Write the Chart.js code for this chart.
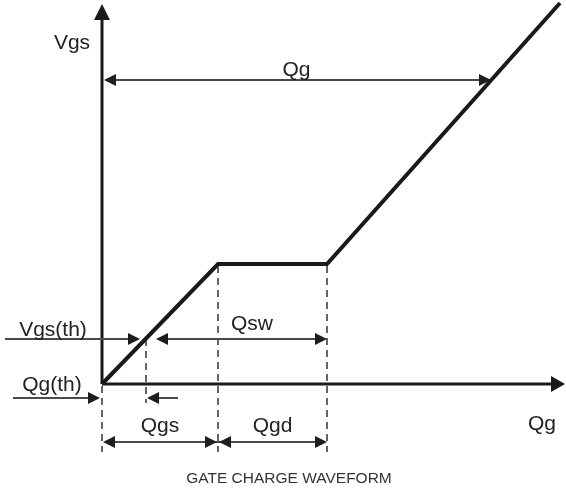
<!DOCTYPE html>
<html>
<head>
<meta charset="utf-8">
<script src="https://cdn.jsdelivr.net/npm/chart.js@4.4.1/dist/chart.umd.min.js"></script>
<style>
  body { margin: 0; background: #fff; }
  canvas { display: block; }
</style>
</head>
<body>
<canvas id="GateChart" width="566" height="490"></canvas>
<script>
// waveform (gate charge, arbitrary units)
var waveQ = [0, 11.6, 22.5, 45.8];
var waveV = [0, 12.0, 12.0, 38.1];

// key charges on the Qg axis
var qTh = 4.4;       // Qg(th)
var qGs = 11.6;      // end of Qgs
var qSwEnd = 22.5;   // end of plateau
var qTotal = 38.9;   // Qg

// key voltages on the Vgs axis
var vTh = 4.5;
var vPlateau = 12.0;
var vQgArrow = 30.4;

// axis extents
var qAxisMin = -10.2, qAxisMax = 46.4;
var vAxisMin = -10.6, vAxisMax = 38.4;
var qAxisEnd = 46.3, vAxisEnd = 38.0;

var labels = {
  vgs: "Vgs", qg: "Qg", vth: "Vgs(th)", qth: "Qg(th)",
  qsw: "Qsw", qgs: "Qgs", qgd: "Qgd", title: "GATE CHARGE WAVEFORM"
};

function head(ctx, x, y, dir, len, half) {
  // dir: 1 right, -1 left, 'up'
  ctx.beginPath();
  if (dir === 'up') {
    ctx.moveTo(x, y);
    ctx.lineTo(x - half, y + len);
    ctx.lineTo(x + half, y + len);
  } else {
    ctx.moveTo(x, y);
    ctx.lineTo(x - dir * len, y - half);
    ctx.lineTo(x - dir * len, y + half);
  }
  ctx.closePath();
  ctx.fill();
}

function hline(ctx, x1, x2, y) {
  ctx.beginPath();
  ctx.moveTo(x1, y);
  ctx.lineTo(x2, y);
  ctx.stroke();
}

function dashed(ctx, x, y1, y2) {
  ctx.save();
  ctx.setLineDash([7, 5]);
  ctx.lineWidth = 1.5;
  ctx.strokeStyle = '#333';
  ctx.beginPath();
  ctx.moveTo(x, y1);
  ctx.lineTo(x, y2);
  ctx.stroke();
  ctx.restore();
}

var diagramPlugin = {
  id: 'diagram',
  beforeDatasetsDraw: function(chart) {
    var ctx = chart.ctx;
    var sx = chart.scales.x, sy = chart.scales.y;
    var X = function(v) { return sx.getPixelForValue(v); };
    var Y = function(v) { return sy.getPixelForValue(v); };
    var x0 = X(0), y0 = Y(0);

    ctx.save();
    // axes
    ctx.strokeStyle = '#1a1a1a';
    ctx.fillStyle = '#1a1a1a';
    ctx.lineWidth = 3;
    ctx.beginPath();
    ctx.moveTo(x0, y0);
    ctx.lineTo(x0, Y(vAxisEnd) + 10);
    ctx.stroke();
    head(ctx, x0, Y(vAxisEnd), 'up', 16, 8);
    hline(ctx, x0, X(qAxisEnd) - 10, y0);
    head(ctx, X(qAxisEnd), y0, 1, 14, 8);

    // dashed guides
    var yLow = y0 + 68;
    dashed(ctx, x0, y0 + 2, yLow);
    dashed(ctx, X(qGs), Y(vPlateau) + 2, yLow);
    dashed(ctx, X(qSwEnd), Y(vPlateau) + 2, yLow);
    dashed(ctx, X(qTh), Y(vTh), y0 + 19);

    // dimension lines
    ctx.strokeStyle = '#4a4a4a';
    ctx.fillStyle = '#1e1e1e';
    ctx.lineWidth = 2;
    var L = 12, H = 6;

    // Qg total
    var yq = Y(vQgArrow);
    hline(ctx, x0 + 4, X(qTotal) - 4, yq);
    head(ctx, x0 + 2, yq, -1, L, H);
    head(ctx, X(qTotal), yq, 1, L, H);

    // Vgs(th) and Qsw
    var yth = Y(vTh);
    var xc = X(qTh);
    hline(ctx, 5, xc - 10, yth);
    head(ctx, xc - 6, yth, 1, L, H);
    hline(ctx, xc + 14, X(qSwEnd) - 4, yth);
    head(ctx, xc + 10, yth, -1, L, H);
    head(ctx, X(qSwEnd), yth, 1, L, H);

    // Qg(th)
    var yqt = y0 + 14;
    hline(ctx, 13, x0 - 6, yqt);
    head(ctx, x0 - 2, yqt, 1, L, H);
    hline(ctx, xc + 6, xc + 32, yqt);
    head(ctx, xc + 1, yqt, -1, L, H);

    // Qgs / Qgd
    var yd = y0 + 58;
    hline(ctx, x0 + 4, X(qSwEnd) - 4, yd);
    head(ctx, x0 + 1, yd, -1, L, H);
    head(ctx, X(qGs) - 1, yd, 1, L, H);
    head(ctx, X(qGs) + 1, yd, -1, L, H);
    head(ctx, X(qSwEnd), yd, 1, L, H);

    // texts
    ctx.fillStyle = '#222';
    ctx.font = '21px "Liberation Sans", Arial, sans-serif';
    ctx.textAlign = 'center';
    ctx.textBaseline = 'alphabetic';
    ctx.fillText(labels.vgs, 72, 49);
    ctx.fillText(labels.qg, (x0 + X(qTotal)) / 2, yq - 4);
    ctx.fillText(labels.vth, 53, yth - 3);
    ctx.fillText(labels.qth, 52, y0 + 7);
    ctx.fillText(labels.qsw, 252, yth - 9);
    ctx.fillText(labels.qgs, (x0 + X(qGs)) / 2, yd - 10);
    ctx.fillText(labels.qgd, (X(qGs) + X(qSwEnd)) / 2, yd - 10);
    ctx.fillText(labels.qg, 542, y0 + 46);
    ctx.fillStyle = '#333';
    ctx.font = '15.5px "Liberation Sans", Arial, sans-serif';
    ctx.fillText(labels.title, 289, 483);
    ctx.restore();
  }
};

var points = waveQ.map(function(q, i) { return { x: q, y: waveV[i] }; });

new Chart(document.getElementById("GateChart").getContext("2d"), {
  type: 'scatter',
  data: {
    datasets: [{
      data: points,
      showLine: true,
      borderColor: '#1a1a1a',
      borderWidth: 4,
      borderJoinStyle: 'miter',
      pointRadius: 0,
      fill: false
    }]
  },
  options: {
    responsive: false,
    animation: false,
    layout: { padding: 0 },
    plugins: { legend: { display: false }, tooltip: { enabled: false } },
    scales: {
      x: { type: 'linear', min: qAxisMin, max: qAxisMax, display: false },
      y: { type: 'linear', min: vAxisMin, max: vAxisMax, display: false }
    }
  },
  plugins: [diagramPlugin]
});
</script>
</body>
</html>
